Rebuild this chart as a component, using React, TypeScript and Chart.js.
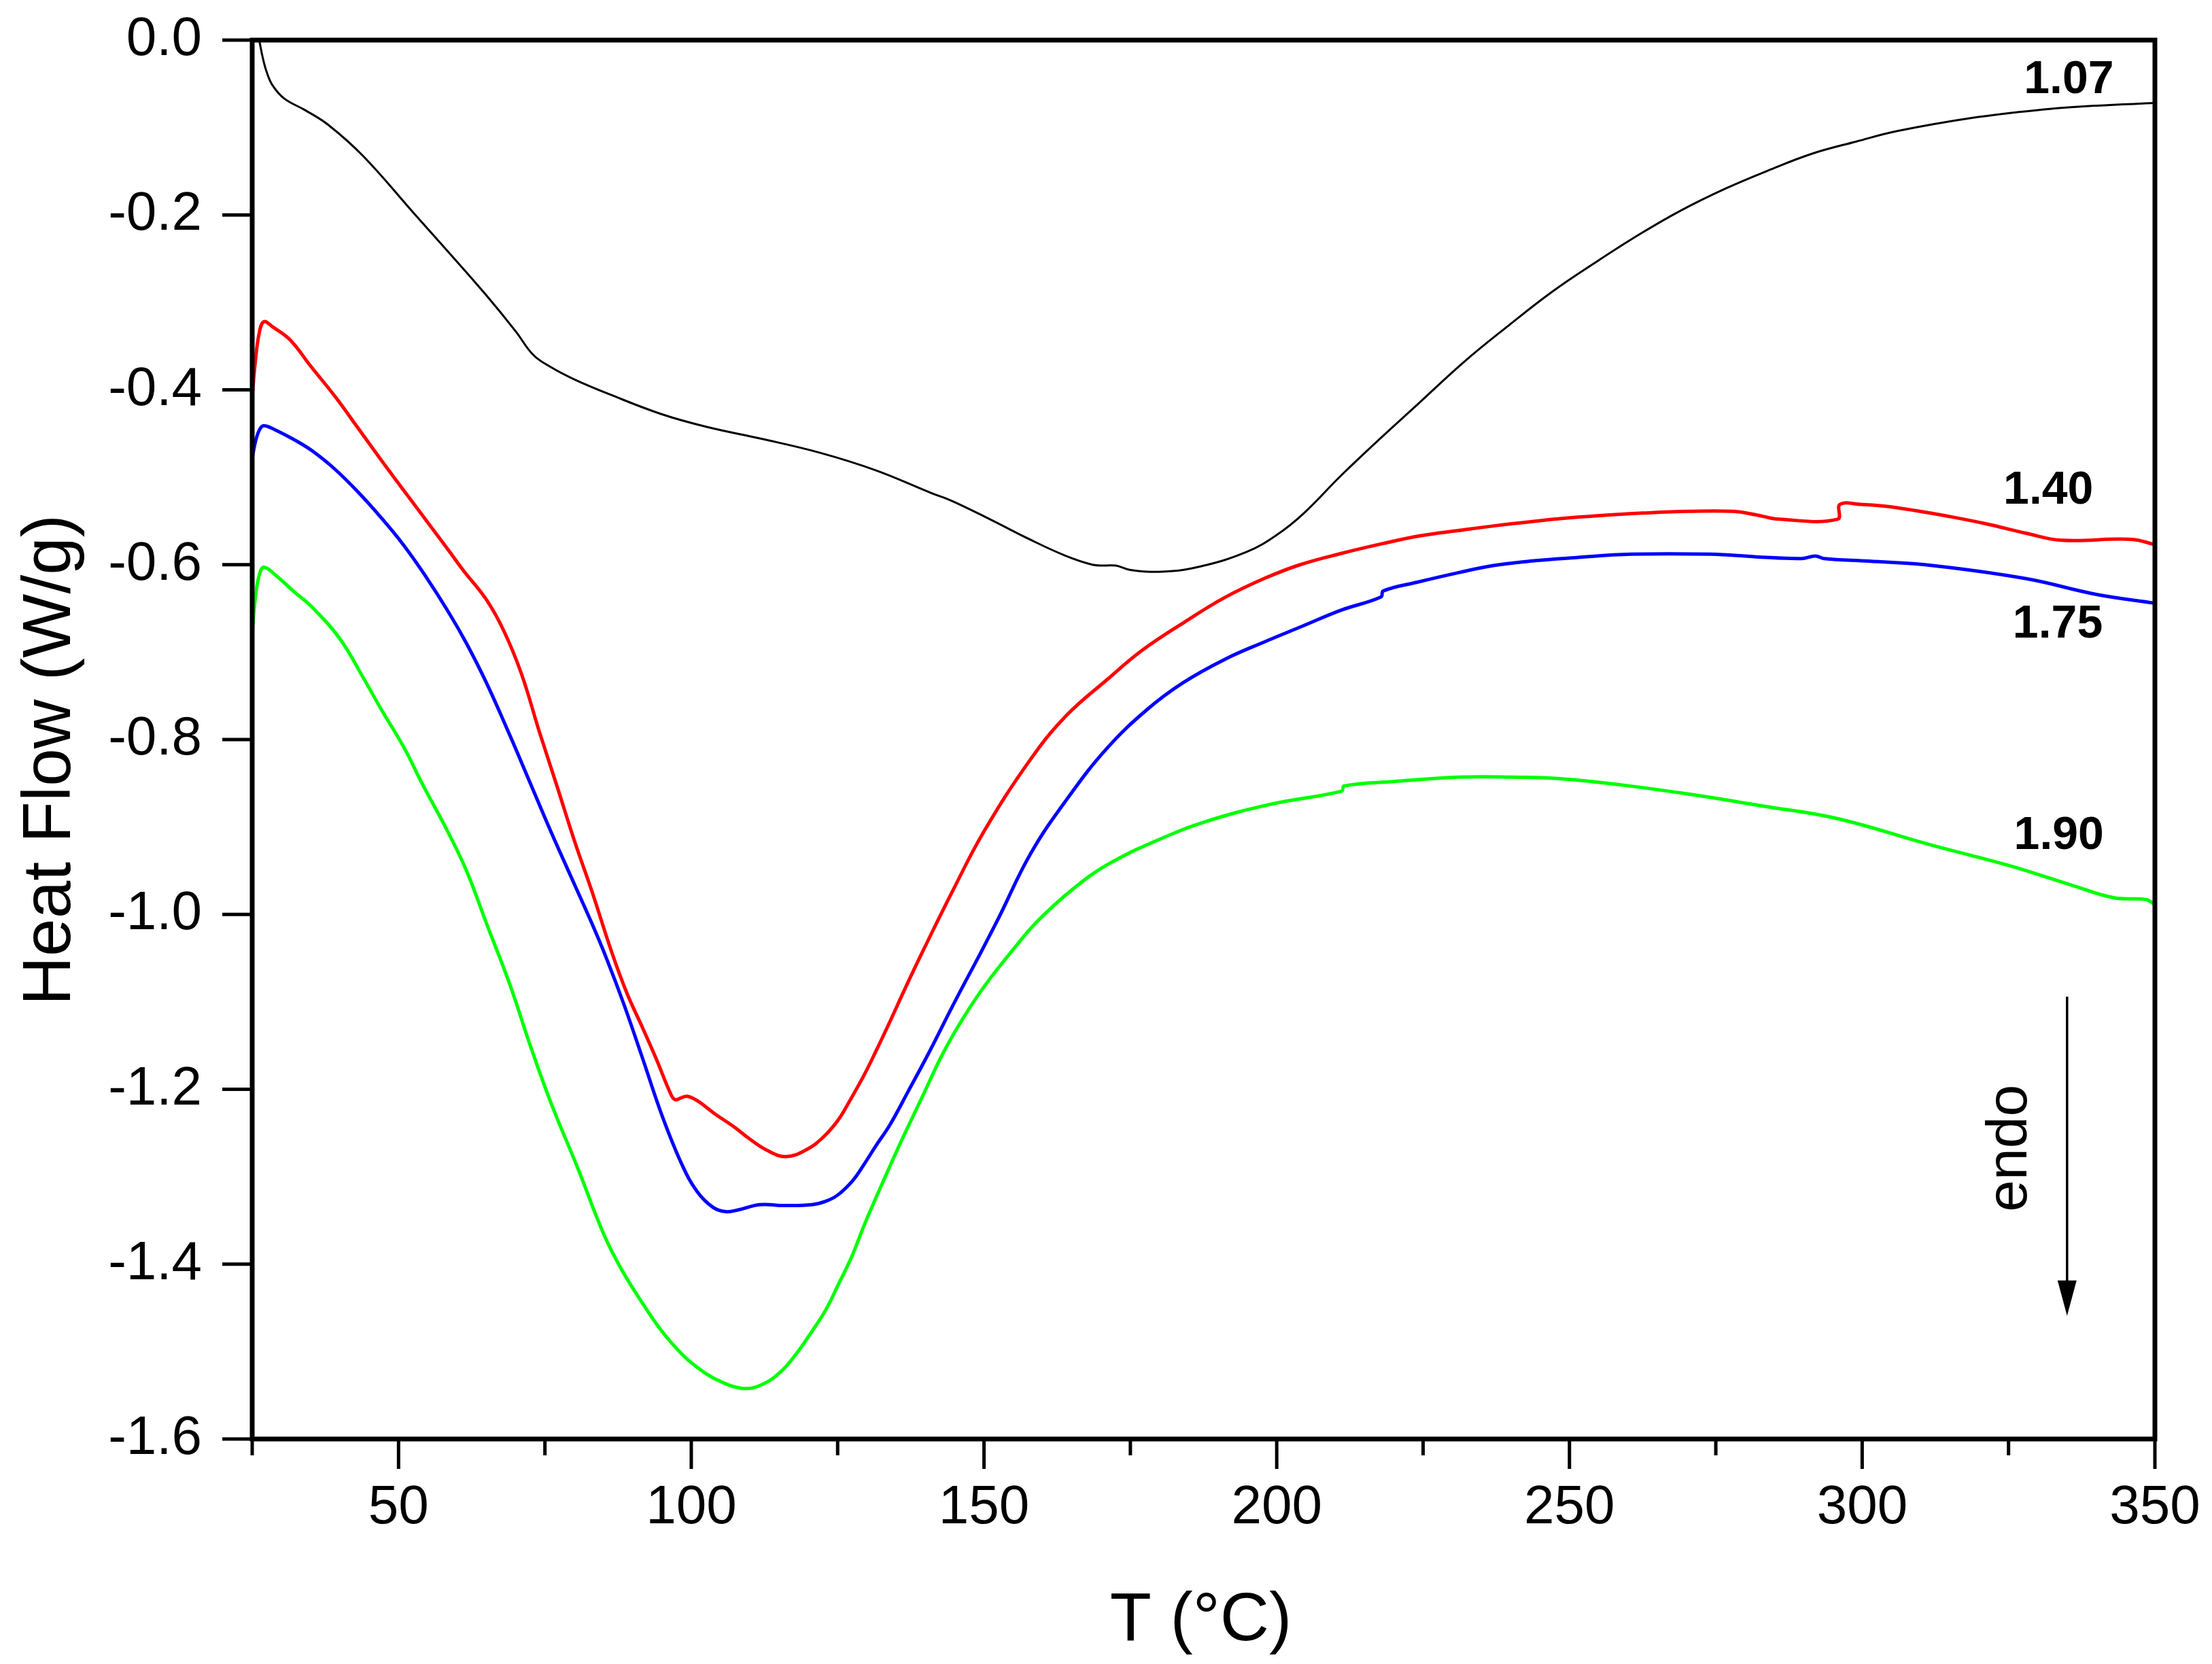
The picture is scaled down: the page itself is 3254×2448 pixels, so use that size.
import React, { useEffect, useRef } from "react";
import { Chart, registerables } from "chart.js";

Chart.register(...registerables);

const WIDTH = 3254;
const HEIGHT = 2448;
const FONT = '"Liberation Sans", Arial, sans-serif';

// DSC traces, one per sample (T in °C, heat flow in W/g)
const t107 = [26.2, 26.8, 27.5, 28.5, 30.5, 34, 38, 44, 53, 59, 65, 70, 73, 76, 80, 86, 95, 103, 112, 122, 131.5, 141, 144.5, 151, 157.8, 164, 168.5, 170.5, 172.5, 175, 180.5, 187, 195, 200, 204.5, 211, 217.3, 224, 232, 239.5, 247, 254.5, 262, 269, 276.6, 284, 291.4, 299, 306, 318.7, 330, 340, 350];
const hf107 = [0, -0.02, -0.037, -0.052, -0.067, -0.08, -0.097, -0.133, -0.201, -0.246, -0.292, -0.333, -0.36, -0.374, -0.388, -0.405, -0.428, -0.443, -0.456, -0.472, -0.492, -0.518, -0.527, -0.548, -0.571, -0.59, -0.6, -0.601, -0.601, -0.606, -0.608, -0.602, -0.585, -0.566, -0.542, -0.498, -0.458, -0.417, -0.368, -0.327, -0.288, -0.254, -0.222, -0.195, -0.17, -0.149, -0.13, -0.116, -0.104, -0.089, -0.08, -0.075, -0.072];

const t140 = [25, 25.5, 26.2, 27, 28.5, 31.5, 35, 39.2, 43, 47, 52, 58.6, 61, 65, 68, 71, 74, 77, 80, 83, 86.4, 89, 91.7, 94, 96.6, 97.3, 98.2, 99.3, 101, 104, 107.3, 110, 113, 116.2, 119.7, 122.5, 125, 127, 129.5, 131.5, 133.9, 136.5, 139.7, 144.5, 150, 157.8, 164, 171.1, 177, 184.4, 191, 197.8, 204, 211.1, 218, 224.5, 231, 237.8, 243.2, 249, 254.8, 262.5, 270.3, 278, 281.9, 285.8, 295.8, 296.2, 299.7, 303.7, 309, 315, 321, 328, 334, 346, 350];
const hf140 = [-0.408, -0.37, -0.335, -0.322, -0.328, -0.343, -0.373, -0.408, -0.443, -0.48, -0.525, -0.584, -0.606, -0.64, -0.676, -0.725, -0.79, -0.852, -0.915, -0.973, -1.043, -1.09, -1.13, -1.165, -1.207, -1.212, -1.21, -1.208, -1.213, -1.228, -1.243, -1.257, -1.27, -1.277, -1.269, -1.255, -1.236, -1.214, -1.184, -1.157, -1.123, -1.085, -1.04, -0.975, -0.905, -0.824, -0.773, -0.731, -0.698, -0.665, -0.638, -0.616, -0.6, -0.587, -0.576, -0.567, -0.561, -0.555, -0.551, -0.547, -0.544, -0.541, -0.539, -0.539, -0.543, -0.548, -0.548, -0.531, -0.531, -0.533, -0.538, -0.545, -0.553, -0.564, -0.572, -0.571, -0.577];

const t175 = [25, 25.6, 26.3, 27, 29, 32.7, 35.3, 39, 43.1, 47, 50.8, 54.5, 58.6, 61.6, 65, 69, 72.5, 76, 80, 83, 85.5, 88.5, 91.7, 95, 98.4, 101, 103.7, 105.9, 108, 111.7, 116, 120.6, 123, 125, 127.5, 129.5, 131.5, 133.9, 137, 140.6, 145, 149.5, 152.5, 158, 164.4, 171, 177.8, 184, 191.2, 198, 204.5, 211, 217.8, 218.2, 224, 231.1, 237, 243.2, 250.9, 260.6, 274.1, 281.9, 289.6, 292, 293.5, 301.2, 312, 328, 340, 350];
const hf175 = [-0.478, -0.458, -0.445, -0.441, -0.446, -0.459, -0.47, -0.49, -0.517, -0.546, -0.577, -0.612, -0.655, -0.69, -0.735, -0.795, -0.85, -0.905, -0.965, -1.01, -1.05, -1.103, -1.165, -1.23, -1.286, -1.317, -1.335, -1.34, -1.338, -1.332, -1.333, -1.332, -1.328, -1.321, -1.305, -1.286, -1.265, -1.241, -1.203, -1.158, -1.1, -1.043, -1.004, -0.93, -0.866, -0.81, -0.766, -0.735, -0.708, -0.688, -0.67, -0.652, -0.637, -0.63, -0.62, -0.609, -0.601, -0.596, -0.592, -0.588, -0.588, -0.591, -0.593, -0.59, -0.593, -0.596, -0.601, -0.616, -0.634, -0.644];

const t190 = [25, 25.5, 26.2, 27, 29, 32, 35.3, 40, 44.2, 47, 51, 54, 58, 61.6, 65, 69, 72.5, 76, 80.6, 85, 88, 91.7, 95, 98.4, 101, 104, 108.6, 112, 115.3, 118, 120.6, 123, 125, 127.5, 129.5, 133, 136.1, 139.5, 142.9, 146.5, 150.3, 155, 159.1, 165, 171.1, 179, 187.8, 199, 211.1, 211.5, 220, 231.1, 240, 249, 259, 271, 283, 295.5, 312, 325, 336, 343, 348.5, 350];
const hf190 = [-0.679, -0.64, -0.612, -0.603, -0.612, -0.63, -0.649, -0.685, -0.732, -0.765, -0.81, -0.85, -0.9, -0.95, -1.01, -1.08, -1.15, -1.215, -1.29, -1.365, -1.405, -1.445, -1.477, -1.503, -1.518, -1.531, -1.542, -1.538, -1.523, -1.502, -1.477, -1.452, -1.425, -1.39, -1.356, -1.302, -1.256, -1.208, -1.16, -1.118, -1.08, -1.04, -1.008, -0.972, -0.943, -0.917, -0.894, -0.874, -0.859, -0.853, -0.848, -0.843, -0.843, -0.845, -0.852, -0.863, -0.876, -0.89, -0.921, -0.944, -0.967, -0.981, -0.983, -0.989];

const seriesNames = ["1.07", "1.40", "1.75", "1.90"];
const seriesT = [t107, t140, t175, t190];
const seriesHF = [hf107, hf140, hf175, hf190];

// axis ticks
const xTicks = [25, 50, 75, 100, 125, 150, 175, 200, 225, 250, 275, 300, 325, 350];
const xTickLabels = ["", "50", "", "100", "", "150", "", "200", "", "250", "", "300", "", "350"];
const yTicks = [0, -0.2, -0.4, -0.6, -0.8, -1.0, -1.2, -1.4, -1.6];
const yTickLabels = ["0.0", "-0.2", "-0.4", "-0.6", "-0.8", "-1.0", "-1.2", "-1.4", "-1.6"];

const xTitle = "T (°C)";
const yTitle = "Heat Flow (W/g)";

const colors = ["#000000", "#ff0000", "#0000ff", "#00ff00"];

const App: React.FC = () => {
  const canvasRef = useRef<HTMLCanvasElement | null>(null);

  useEffect(() => {
    document.body.style.margin = "0";
    document.body.style.overflow = "hidden";
    if (!canvasRef.current) return;

    const chart = new Chart(canvasRef.current, {
      type: "line",
      data: {
        datasets: seriesNames.map((name, i) => ({
          label: name,
          data: seriesT[i].map((t, j) => ({ x: t, y: seriesHF[i][j] })),
          borderColor: colors[i],
          borderWidth: i === 0 ? 3 : 5,
          pointRadius: 0,
          fill: false,
          tension: 0.4,
        })),
      },
      options: {
        animation: false,
        responsive: false,
        devicePixelRatio: 1,
        layout: { padding: { left: 0, top: 59, right: 84, bottom: 0 } },
        plugins: {
          legend: { display: false },
          tooltip: { enabled: false },
        },
        scales: {
          x: {
            type: "linear",
            min: 25,
            max: 350,
            afterFit: (scale) => {
              scale.height = 331;
            },
            afterBuildTicks: (scale) => {
              scale.ticks = xTicks.map((v) => ({ value: v }));
            },
            border: { display: false },
            grid: {
              drawOnChartArea: false,
              drawTicks: true,
              tickLength: 44,
              tickColor: "rgba(0,0,0,0)",
            },
            ticks: {
              autoSkip: false,
              maxRotation: 0,
              padding: 10,
              color: "#000",
              font: { family: FONT, size: 80 },
              callback: (_v, index) => xTickLabels[index],
            },
          },
          y: {
            type: "linear",
            min: -1.6,
            max: 0,
            afterFit: (scale) => {
              scale.width = 371;
            },
            afterBuildTicks: (scale) => {
              scale.ticks = yTicks.map((v) => ({ value: v }));
            },
            border: { display: false },
            grid: {
              drawOnChartArea: false,
              drawTicks: true,
              tickLength: 64,
              tickColor: "rgba(0,0,0,0)",
            },
            ticks: {
              padding: 10,
              color: "#000",
              font: { family: FONT, size: 80, lineHeight: 1 },
              callback: (_v, index) => yTickLabels[index],
            },
          },
        },
      },
      plugins: [
        {
          id: "dscDecor",
          afterDraw: (c) => {
            const { ctx, chartArea } = c;
            const xs = c.scales.x;
            const ys = c.scales.y;
            const { left, right, top, bottom } = chartArea;
            ctx.save();

            // frame around the plot
            ctx.strokeStyle = "#000";
            ctx.lineWidth = 7;
            ctx.lineJoin = "miter";
            ctx.strokeRect(left, top, right - left, bottom - top);

            // tick marks: long at labelled values, short in between
            ctx.lineWidth = 5;
            xTicks.forEach((v, i) => {
              const px = xs.getPixelForValue(v);
              const len = xTickLabels[i] ? 44 : 24;
              ctx.beginPath();
              ctx.moveTo(px, bottom);
              ctx.lineTo(px, bottom + len);
              ctx.stroke();
            });
            yTicks.forEach((v) => {
              const py = ys.getPixelForValue(v);
              ctx.beginPath();
              ctx.moveTo(left, py);
              ctx.lineTo(left - 44, py);
              ctx.stroke();
            });

            // curve labels
            const labelAt = [
              [335.3, -0.061],
              [331.8, -0.53],
              [333.4, -0.683],
              [333.6, -0.925],
            ];
            ctx.fillStyle = "#000";
            ctx.font = `bold 68px ${FONT}`;
            ctx.textAlign = "center";
            ctx.textBaseline = "alphabetic";
            seriesNames.forEach((name, i) => {
              ctx.fillText(name, xs.getPixelForValue(labelAt[i][0]), ys.getPixelForValue(labelAt[i][1]));
            });

            // endo arrow
            const ax = xs.getPixelForValue(335);
            const ay0 = ys.getPixelForValue(-1.094);
            const ay1 = ys.getPixelForValue(-1.459);
            ctx.lineWidth = 3.5;
            ctx.beginPath();
            ctx.moveTo(ax, ay0);
            ctx.lineTo(ax, ay1 - 50);
            ctx.stroke();
            ctx.beginPath();
            ctx.moveTo(ax - 14, ay1 - 52);
            ctx.lineTo(ax + 14, ay1 - 52);
            ctx.lineTo(ax, ay1);
            ctx.closePath();
            ctx.fill();

            ctx.save();
            ctx.translate(xs.getPixelForValue(328.1), ys.getPixelForValue(-1.2675));
            ctx.rotate(-Math.PI / 2);
            ctx.font = `84px ${FONT}`;
            ctx.fillText("endo", 0, 0);
            ctx.restore();

            // axis titles
            ctx.font = `100px ${FONT}`;
            ctx.fillText(xTitle, (left + right) / 2 - 4, 2413);
            ctx.save();
            ctx.translate(103, (top + bottom) / 2 + 30);
            ctx.rotate(-Math.PI / 2);
            ctx.fillText(yTitle, 0, 0);
            ctx.restore();

            ctx.restore();
          },
        },
      ],
    });

    return () => {
      chart.destroy();
    };
  }, []);

  return (
    <div style={{ width: WIDTH, height: HEIGHT, background: "#fff" }}>
      <canvas ref={canvasRef} width={WIDTH} height={HEIGHT} style={{ display: "block" }}></canvas>
    </div>
  );
};

export default App;
